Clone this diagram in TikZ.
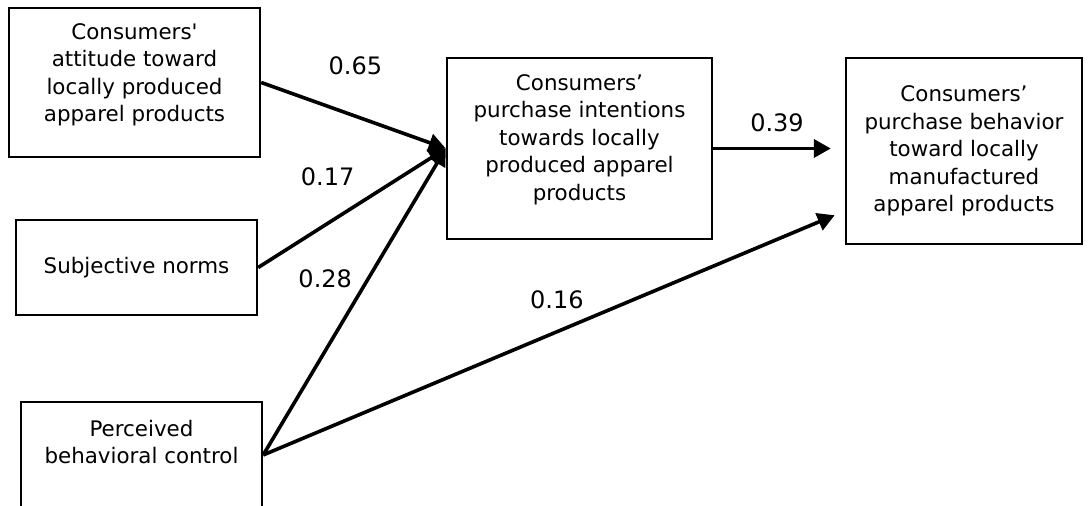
\documentclass[tikz,border=0pt]{standalone}
\usepackage{fontspec}
\setmainfont{DejaVu Sans}
\usetikzlibrary{arrows.meta,positioning}

\begin{document}
\begin{tikzpicture}[x=0.5pt,y=-0.5pt,>={Triangle[length=8.5pt,width=9pt]},
box/.style={draw,line width=1.2pt,minimum width=120.5pt,minimum height=47.5pt,align=center,font=\fontsize{10.7}{13.75}\selectfont},
arr/.style={->,line width=1.8pt},
lbl/.style={font=\fontsize{12}{14}\selectfont,inner sep=3.33pt}]
\useasboundingbox (0,0) rectangle (1088,506);
\clip (0,0) rectangle (1088,506);
\node[box,minimum width=125.5pt,minimum height=74.5pt] (attitude) at (134.5,82.5) {Consumers\textquotesingle\\attitude toward\\locally produced\\apparel products\\[-3.75pt]\mbox{}};
\node[box] (norms) at (136.5,267.5) {Subjective norms};
\node[box,minimum height=53pt] (control) at (141.5,455) {Perceived\\behavioral control\\[-0.75pt]\mbox{}};
\node[box,minimum width=132.5pt,minimum height=90.5pt] (intent) at (579.5,148.5) {Consumers’\\purchase intentions\\towards locally\\produced apparel\\products\\[-2.75pt]\mbox{}};
\node[box,minimum width=118pt,minimum height=93pt] (behav) at (964,151) {Consumers’\\purchase behavior\\toward locally\\manufactured\\apparel products};
% paths
\draw[arr] (attitude.east) -- node[lbl,above=16.3pt,pos=.51]{0.65} (intent.west);
\draw[arr] (norms.east) -- node[lbl,above=14.6pt,pos=.37]{0.17} (intent.west);
\draw[arr] (control.east) -- node[lbl,left=3.9pt,pos=.575]{0.28} (intent.west);
\draw[arr,shorten >=7pt] (intent.east) -- node[lbl,above=4pt,pos=.485]{0.39} (intent.east -| behav.west);
\draw[arr,shorten >=5.5pt] (control.east) -- node[lbl,above=7.2pt,pos=.505]{0.16} ([yshift=-30pt]behav.west);
\end{tikzpicture}
\end{document}
